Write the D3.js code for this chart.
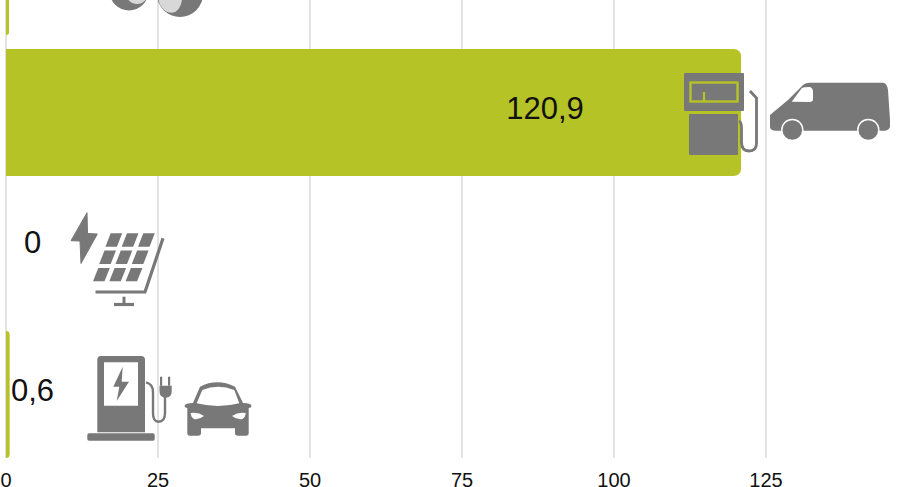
<!DOCTYPE html>
<html><head><meta charset="utf-8">
<script src="https://cdn.jsdelivr.net/npm/d3@7"></script>
<style>html,body{margin:0;padding:0;background:#fff}svg{display:block}text{font-family:"Liberation Sans",Arial,sans-serif}</style>
</head><body><div id="c"></div>
<script>
const categories = ["hidden","van","solar","ev"];
const values = [0.5,120.9,0,0.6];
const labels = ["0,5","120,9","0","0,6"];
const ticks = [0,25,50,75,100,125];
const W=904,H=487, G="#787878", LIME="#b5c327", GRID="#dcdcdc";
const x=d3.scaleLinear().domain([0,125]).range([6,766]);
const y=d3.scaleBand().domain(categories).range([-92,458]).paddingInner(14/141).paddingOuter(0);
const svg=d3.select("#c").append("svg").attr("width",W).attr("height",H);
svg.append("g").selectAll("line").data(ticks).join("line")
 .attr("x1",d=>x(d)).attr("x2",d=>x(d)).attr("y1",0).attr("y2",458)
 .attr("stroke",GRID).attr("stroke-width",1.6);
svg.append("g").selectAll("path").data(categories.filter((c,i)=>values[i]>0)).join("path")
 .attr("fill",LIME)
 .attr("d",c=>{const v=values[categories.indexOf(c)],x0=x(0),x1=x(v),t=y(c),b=t+y.bandwidth(),r=Math.min(8,x1-x0);
   return `M${x0} ${t}H${x1-r}Q${x1} ${t} ${x1} ${t+r}V${b-r}Q${x1} ${b} ${x1-r} ${b}H${x0}Z`;});
const axis=d3.axisBottom(x).tickValues(ticks).tickSize(0).tickPadding(0).offset(0).tickFormat(d3.format("d"));
const ga=svg.append("g").attr("transform","translate(0,480)").call(axis);
ga.select(".domain").remove();
ga.selectAll("text").attr("font-size",20).attr("fill","#111").attr("y",0).attr("dy","0.35em");
const lx={van:545,solar:32.5,ev:32.5}, ly={van:108.5,solar:242.5,ev:390.5};
svg.append("g").selectAll("text").data(categories.slice(1)).join("text")
 .attr("x",c=>lx[c]).attr("y",c=>ly[c]).attr("dy","0.35em").attr("text-anchor","middle")
 .attr("font-size",31).attr("fill","#111").text(c=>labels[categories.indexOf(c)]);
const ic=svg.append("g");
const P=(d,f=G)=>ic.append("path").attr("d",d).attr("fill",f);
const S=(d,w=2.5,c=G)=>ic.append("path").attr("d",d).attr("fill","none").attr("stroke",c).attr("stroke-width",w);
const C=(cx,cy,r,f=G)=>ic.append("circle").attr("cx",cx).attr("cy",cy).attr("r",r).attr("fill",f);
// top partial icon
C(129,-9,19.5); C(137,-7,11,"#d8d8d8");
C(180,-6,23); P("M158.5 0Q162 12.7 172 12.7Q180 12 182 0Z","#d8d8d8");
// fuel pump
P("M685 73H743Q744 73 744 74V110Q744 111 743 111H685Q684 111 684 110V74Q684 73 685 73Z");
ic.append("rect").attr("x",690.5).attr("y",82.5).attr("width",47).attr("height",19).attr("fill","none").attr("stroke",LIME).attr("stroke-width",2.4);
S("M704 92V102",2.2,LIME);
P("M690 114H737Q738 114 738 115V154Q738 155 737 155H690Q689 155 689 154V115Q689 114 690 114Z");
S("M739 121Q741.5 122 741.5 128V142Q741.5 151 749 151Q756.5 151 756.5 143V98L750 91",2.8);
// van
P("M770 115L788 100L802 86Q805 82.7 810 82.7H883Q887 83 888 90L890 120V127Q889 130 885 130.7H775Q770 130 770 127Z");
P("M791.7 101.7L801.7 88.3Q803 87 810 87Q813 88 813 92V99Q812.7 102 810 102Z","#fff");
[792.3,868.3].forEach(cx=>{C(cx,130,11.2,"#fff");C(cx,130,9.8);});
// solar
P("M87 212.7L71 240.7L80 241L81 263.5L97.3 234L87.5 233.5Z").attr("stroke",G).attr("stroke-width",1).attr("stroke-linejoin","round");
[0,1,2].forEach(r=>[0,1,2].forEach(c=>{
  const tx=110.7+c*16.3-r*6.2, ty=233.3+r*17.3;
  P(`M${tx} ${ty}h11.5l-5.3 13.4h-11.5Z`);
}));
S("M163 238.3L145 292H95.5",3.2);
S("M124 296.7V304",3);S("M114 304.5H134",3.2);
// ev charger
P("M101 356H141Q145 356 145 360V432.3H97.3V360Q97.3 356 101 356Z");
P("M104 362.3H138V405.7H104Z","#fff");
P("M122.7 366.7L113.3 386.7H119.3L116.7 401L129 381.7H121.7Z");
P("M89 433.3H153Q154.7 433.3 154.7 435V439Q154.7 440.7 153 440.7H89Q87.3 440.7 87.3 439V435Q87.3 433.3 89 433.3Z");
S("M146 382.3Q153 384 153 392V413Q153 421.7 158.5 421.7Q165 421.7 165 413V396",2.4);
P("M160 376.7h2.2v9h-2.2ZM168 376.7h2.2v9h-2.2Z");
P("M159.5 385.7H171.7V391Q171.7 397.7 165.7 397.7Q159.5 397.7 159.5 391Z");
// car
P("M184.5 406Q185 403 193 403L200 386.7Q217 378 235 386.7L243 403Q251 403 251.7 406Q251 408 248.7 408V433Q248.7 435.7 246 435.7H238Q235 435.7 235 433V428.3H201V433Q201 435.7 198 435.7H190Q187.3 435.7 187.3 433V408Q185 408 184.5 406Z");
P("M196.7 403.3L202.3 390Q218 383.4 234.3 390L239.3 403.3Q218 408.7 196.7 403.3Z","#fff");
P("M190.7 413Q198 411.5 204 416Q199 420 194 419Q191 417.5 190.7 413Z","#fff");
P("M245.7 413Q238.4 411.5 232 416Q237 420 242.4 419Q245.4 417.5 245.7 413Z","#fff");
</script></body></html>
